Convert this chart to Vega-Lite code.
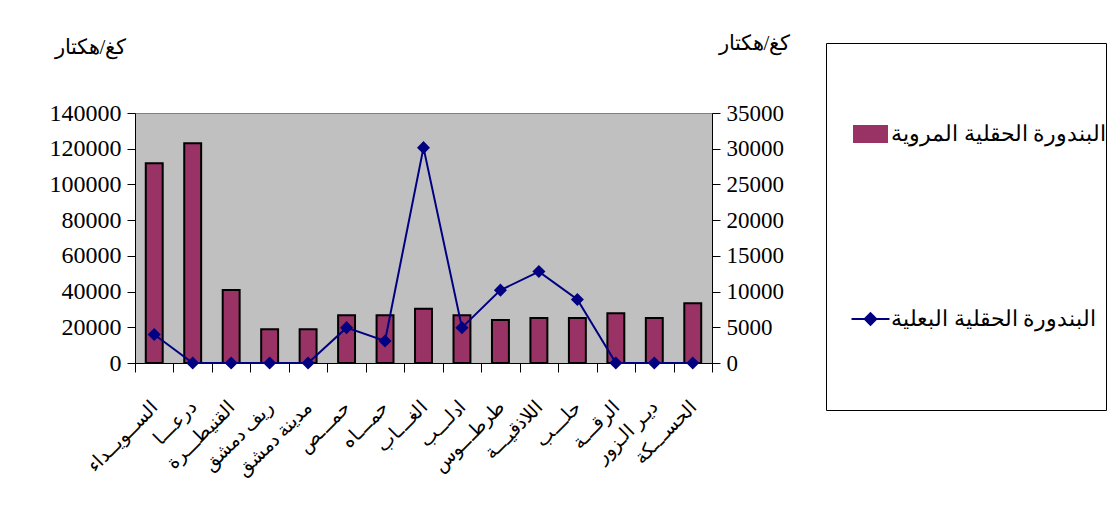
{
  "$schema": "https://vega.github.io/schema/vega-lite/v6.json",
  "autosize": "none",
  "width": 577,
  "height": 250,
  "padding": {"left": 135, "top": 113, "right": 401, "bottom": 164},
  "background": "white",
  "config": {
    "view": {"fill": "#C0C0C0", "stroke": "#808080", "strokeWidth": 1},
    "font": "Liberation Serif",
    "axis": {"grid": false, "domainColor": "black", "tickColor": "black", "labelColor": "black", "titleColor": "black", "labelFont": "Liberation Serif", "titleFont": "Liberation Serif", "titleFontWeight": "normal"},
    "legend": {
      "orient": "none", "legendX": 691, "legendY": -70,
      "clipHeight": 182, "rowPadding": 3, "padding": 0,
      "strokeColor": "black", "fillColor": "white",
      "symbolSize": 1089, "symbolOffset": 27, "labelOffset": 3, "symbolStrokeWidth": 2,
      "labelFontSize": 22, "labelFont": "Liberation Serif", "labelColor": "black", "labelLimit": 400
    }
  },
  "data": {
    "values": [
      {"region": "الســويــداء", "irrigated": 111800, "rainfed": 4000},
      {"region": "درعـــا", "irrigated": 123000, "rainfed": 0},
      {"region": "القنيطـــرة", "irrigated": 40900, "rainfed": 0},
      {"region": "ريف دمشق", "irrigated": 18900, "rainfed": 0},
      {"region": "مدينة دمشق", "irrigated": 18900, "rainfed": 0},
      {"region": "حمـــص", "irrigated": 26700, "rainfed": 4950},
      {"region": "حمـــاه", "irrigated": 26700, "rainfed": 3080},
      {"region": "الغـــاب", "irrigated": 30400, "rainfed": 30150},
      {"region": "ادلـــب", "irrigated": 26700, "rainfed": 4950},
      {"region": "طرطـــوس", "irrigated": 24100, "rainfed": 10200},
      {"region": "اللاذقيـــة", "irrigated": 25200, "rainfed": 12800},
      {"region": "حلـــب", "irrigated": 25200, "rainfed": 8900},
      {"region": "الرقـــة", "irrigated": 27800, "rainfed": 0},
      {"region": "ديـر الـزور", "irrigated": 25200, "rainfed": 0},
      {"region": "الحســـكة", "irrigated": 33400, "rainfed": 0}
    ]
  },
  "encoding": {
    "x": {
      "field": "region", "type": "nominal", "sort": null,
      "scale": {"paddingInner": 0, "paddingOuter": 0},
      "axis": {"title": null, "labelAngle": -45, "labelAlign": "right", "labelBaseline": "middle", "labelFontSize": 19, "labelPadding": 32, "tickBand": "extent", "tickSize": 9, "domainColor": "black", "labelFont": "Liberation Serif"}
    }
  },
  "layer": [
    {
      "mark": {"type": "bar", "width": {"band": 0.44}, "stroke": "black", "strokeWidth": 2},
      "encoding": {
        "y": {"field": "irrigated", "type": "quantitative", "scale": {"domain": [0, 140000], "nice": false},
          "axis": {"orient": "left", "values": [0, 20000, 40000, 60000, 80000, 100000, 120000, 140000], "format": "d", "labelFontSize": 24, "tickSize": 8, "labelPadding": 6,
            "title": "كغ/هكتار", "titleAngle": 0, "titleAlign": "center", "titleBaseline": "middle", "titleX": -45, "titleY": -66, "titleFontSize": 21}},
        "color": {"datum": "البندورة الحقلية المروية", "type": "nominal",
          "scale": {"domain": ["البندورة الحقلية المروية", "البندورة الحقلية البعلية"], "range": ["#993366", "#000080"]},
          "legend": {
            "title": null,
            "encode": {
              "symbols": {
                "enter": {
                  "shape": {"signal": "datum.value === 'البندورة الحقلية المروية' ? 'M-1,-0.48H1V0.48H-1Z' : 'M-1.15,0H1.15M0,-0.35L0.35,0L0,0.35L-0.35,0Z'"},
                  "fill": {"signal": "datum.value === 'البندورة الحقلية المروية' ? '#993366' : '#000080'"},
                  "stroke": {"signal": "datum.value === 'البندورة الحقلية المروية' ? '#000000' : '#000080'"},
                  "strokeWidth": {"value": 2}
                },
                "update": {
                  "shape": {"signal": "datum.value === 'البندورة الحقلية المروية' ? 'M-1,-0.48H1V0.48H-1Z' : 'M-1.15,0H1.15M0,-0.35L0.35,0L0,0.35L-0.35,0Z'"},
                  "fill": {"signal": "datum.value === 'البندورة الحقلية المروية' ? '#993366' : '#000080'"},
                  "stroke": {"signal": "datum.value === 'البندورة الحقلية المروية' ? '#000000' : '#000080'"},
                  "strokeWidth": {"value": 2}
                }
              }
            }
          }}
      }
    },
    {
      "mark": {"type": "line", "color": "#000080", "strokeWidth": 2, "point": {"shape": "diamond", "filled": true, "size": 170, "color": "#000080", "opacity": 1}},
      "encoding": {
        "y": {"field": "rainfed", "type": "quantitative", "scale": {"domain": [0, 35000], "nice": false},
          "axis": {"orient": "right", "values": [0, 5000, 10000, 15000, 20000, 25000, 30000, 35000], "format": "d", "labelFontSize": 23, "tickSize": 8, "labelPadding": 6,
            "title": "كغ/هكتار", "titleAngle": 0, "titleAlign": "center", "titleBaseline": "middle", "titleX": 42, "titleY": -70, "titleFontSize": 21}},
        "color": {"datum": "البندورة الحقلية البعلية", "type": "nominal",
          "legend": {
            "title": null,
            "encode": {
              "symbols": {
                "enter": {
                  "shape": {"signal": "datum.value === 'البندورة الحقلية المروية' ? 'M-1,-0.48H1V0.48H-1Z' : 'M-1.15,0H1.15M0,-0.35L0.35,0L0,0.35L-0.35,0Z'"},
                  "fill": {"signal": "datum.value === 'البندورة الحقلية المروية' ? '#993366' : '#000080'"},
                  "stroke": {"signal": "datum.value === 'البندورة الحقلية المروية' ? '#000000' : '#000080'"},
                  "strokeWidth": {"value": 2}
                },
                "update": {
                  "shape": {"signal": "datum.value === 'البندورة الحقلية المروية' ? 'M-1,-0.48H1V0.48H-1Z' : 'M-1.15,0H1.15M0,-0.35L0.35,0L0,0.35L-0.35,0Z'"},
                  "fill": {"signal": "datum.value === 'البندورة الحقلية المروية' ? '#993366' : '#000080'"},
                  "stroke": {"signal": "datum.value === 'البندورة الحقلية المروية' ? '#000000' : '#000080'"},
                  "strokeWidth": {"value": 2}
                }
              }
            }
          }}
      }
    }
  ],
  "resolve": {"scale": {"y": "independent"}}
}
